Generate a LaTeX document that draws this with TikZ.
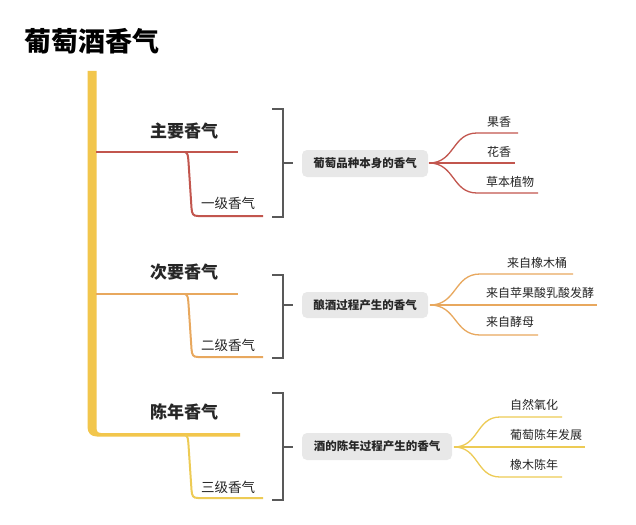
\documentclass[tikz,border=0pt]{standalone}
\usepackage{fontspec}
\setmainfont{Noto Sans CJK SC}
\begin{document}
\begin{tikzpicture}[x=1pt,y=-1pt,
  txt/.style={inner sep=0pt,text=black!85},
  lbl/.style={txt,font=\bfseries\fontsize{17}{17}\selectfont},
  sublbl/.style={txt,font=\fontsize{13.5}{13.5}\selectfont},
  leaf/.style={txt,anchor=west,font=\fontsize{12}{12}\selectfont},
  topic/.style={rounded corners=5pt,fill=black!9,inner sep=0pt,text=black!85,font=\bfseries\fontsize{11.5}{11.5}\selectfont},
  brk/.style={draw=black!65,line width=1.4pt},
  bline/.style={line width=2pt},
  lline/.style={line width=1.3pt}]
\definecolor{trunkc}{HTML}{F2C64C}
\definecolor{redc}{HTML}{C2564E}
\definecolor{orc}{HTML}{E8A85E}
\definecolor{yelc}{HTML}{EDCB55}
\useasboundingbox (0,0) rectangle (636,524);
\fill[white] (0,0) rectangle (636,524);
% title
\node[anchor=west,inner sep=0pt,font=\bfseries\fontsize{27}{27}\selectfont] (title) at (24,41) {葡萄酒香气};
% trunk
\fill[trunkc] (87.5,71) -- (96.5,71) -- (96.5,427) .. controls (96.5,431) and (97.5,433) .. (101,433)
  -- (240,433) -- (240,436.5) -- (97,436.5) .. controls (91,436.5) and (87.5,433) .. (87.5,427) -- cycle;
% ---------- branch 1
\coordinate (b1s) at (96,152);
\coordinate (b1e) at (238,152);
\coordinate (b1j) at (185,152);
\coordinate (s1e) at (263,216);
\draw[redc,bline] (b1s) -- (b1e);
\draw[redc,bline] (b1j) .. controls (188,153) and (188,156) .. (188.5,162) -- (191.5,208) .. controls (192,214) and (193,216) .. (198,216) -- (s1e);
\node[lbl] (m1) at (184,131) {主要香气};
\node[sublbl] (s1) at (228,203) {一级香气};
\draw[brk] (272,109) -- (283,109) -- (283,217) -- (272,217);
\draw[brk] (283,163) -- (293,163);
\node[topic,minimum width=126pt,minimum height=27pt] (t1) at (365,163.5) {葡萄品种本身的香气};
\coordinate (o1) at (429,163);
\foreach \y/\e/\n in {133/518/a,163/515/b,193/538/c}{
  \draw[redc,lline] (o1) .. controls (455,163) and (452,\y) .. (477,\y) -- (\e,\y);
}
\node[leaf] (l1a) at (487,122) {果香};
\node[leaf] (l1b) at (487,152) {花香};
\node[leaf] (l1c) at (486,182) {草本植物};
% ---------- branch 2
\coordinate (b2s) at (96,294);
\coordinate (b2e) at (238,294);
\coordinate (b2j) at (185,294);
\coordinate (s2e) at (263,357);
\draw[orc,bline] (b2s) -- (b2e);
\draw[orc,bline] (b2j) .. controls (188,295) and (188,298) .. (188.5,304) -- (191.5,349) .. controls (192,355) and (193,357) .. (198,357) -- (s2e);
\node[lbl] (m2) at (184,272) {次要香气};
\node[sublbl] (s2) at (228,345) {二级香气};
\draw[brk] (272,275) -- (283,275) -- (283,358) -- (272,358);
\draw[brk] (283,305) -- (293,305);
\node[topic,minimum width=126pt,minimum height=26pt] (t2) at (365,305) {酿酒过程产生的香气};
\coordinate (o2) at (430,305);
\foreach \y/\e in {274/573,305/597,335/538}{
  \draw[orc,lline] (o2) .. controls (457,305) and (454,\y) .. (480,\y) -- (\e,\y);
}
\node[leaf] (l2a) at (507,263) {来自橡木桶};
\node[leaf] (l2b) at (486,293) {来自苹果酸乳酸发酵};
\node[leaf] (l2c) at (486,322) {来自酵母};
% ---------- branch 3
\coordinate (b3j) at (185,435);
\coordinate (s3e) at (263,498);
\draw[yelc,bline] (b3j) .. controls (188,436) and (188,439) .. (188.5,445) -- (191.5,490) .. controls (192,496) and (193,498) .. (198,498) -- (s3e);
\node[lbl] (m3) at (184,412) {陈年香气};
\node[sublbl] (s3) at (228,487) {三级香气};
\draw[brk] (272,393) -- (283,393) -- (283,500) -- (272,500);
\draw[brk] (283,447) -- (293,447);
\node[topic,minimum width=150pt,minimum height=27pt] (t3) at (377,446.5) {酒的陈年过程产生的香气};
\coordinate (o3) at (454,447);
\foreach \y/\e in {417/562,447/585,477/562}{
  \draw[yelc,lline] (o3) .. controls (479,447) and (476,\y) .. (500,\y) -- (\e,\y);
}
\node[leaf] (l3a) at (510,405) {自然氧化};
\node[leaf] (l3b) at (510,435) {葡萄陈年发展};
\node[leaf] (l3c) at (510,465) {橡木陈年};
\end{tikzpicture}
\end{document}
